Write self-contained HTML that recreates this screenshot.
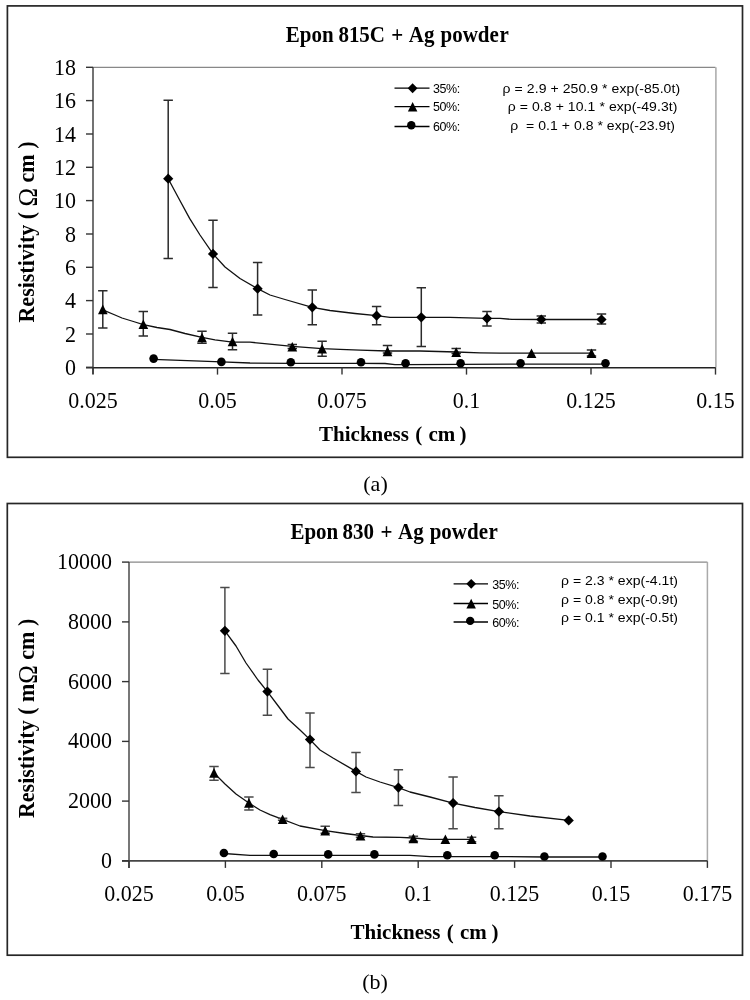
<!DOCTYPE html><html><head><meta charset="utf-8"><style>html,body{margin:0;padding:0;background:#fff;}svg{display:block;filter:grayscale(1);}</style></head><body>
<svg width="750" height="1000" viewBox="0 0 750 1000">
<rect width="750" height="1000" fill="#fff"/>
<rect x="7.4" y="5.9" width="735.1" height="451.4" fill="none" stroke="#262626" stroke-width="1.7"/>
<text transform="translate(0 41.8) scale(1 1.06)" font-family='"Liberation Serif", serif' font-size="21" font-weight="bold"><tspan x="285.8">Epon</tspan><tspan x="338.4">815C</tspan><tspan x="391.2">+</tspan><tspan x="408.8">Ag</tspan><tspan x="440.5">powde</tspan><tspan x="499.4">r</tspan></text>
<path d="M93 67.3H715.5" stroke="#888" stroke-width="1.3" fill="none"/>
<path d="M715.9 67.3V367.3" stroke="#a8a8a8" stroke-width="1.5" fill="none"/>
<path d="M93 67.3V374.3" stroke="#444" stroke-width="1.5" fill="none"/>
<path d="M86 367.7H715.5" stroke="#222" stroke-width="1.5" fill="none"/>
<path d="M86 367.3H93" stroke="#333" stroke-width="1.4"/>
<text transform="translate(76 374.9) scale(1 1.075)" font-family='"Liberation Serif", serif' font-size="22" text-anchor="end" font-weight="normal" >0</text>
<path d="M86 334.0H93" stroke="#333" stroke-width="1.4"/>
<text transform="translate(76 341.57) scale(1 1.075)" font-family='"Liberation Serif", serif' font-size="22" text-anchor="end" font-weight="normal" >2</text>
<path d="M86 300.6H93" stroke="#333" stroke-width="1.4"/>
<text transform="translate(76 308.23) scale(1 1.075)" font-family='"Liberation Serif", serif' font-size="22" text-anchor="end" font-weight="normal" >4</text>
<path d="M86 267.3H93" stroke="#333" stroke-width="1.4"/>
<text transform="translate(76 274.9) scale(1 1.075)" font-family='"Liberation Serif", serif' font-size="22" text-anchor="end" font-weight="normal" >6</text>
<path d="M86 234.0H93" stroke="#333" stroke-width="1.4"/>
<text transform="translate(76 241.57) scale(1 1.075)" font-family='"Liberation Serif", serif' font-size="22" text-anchor="end" font-weight="normal" >8</text>
<path d="M86 200.6H93" stroke="#333" stroke-width="1.4"/>
<text transform="translate(76 208.23) scale(1 1.075)" font-family='"Liberation Serif", serif' font-size="22" text-anchor="end" font-weight="normal" >10</text>
<path d="M86 167.3H93" stroke="#333" stroke-width="1.4"/>
<text transform="translate(76 174.9) scale(1 1.075)" font-family='"Liberation Serif", serif' font-size="22" text-anchor="end" font-weight="normal" >12</text>
<path d="M86 134.0H93" stroke="#333" stroke-width="1.4"/>
<text transform="translate(76 141.57) scale(1 1.075)" font-family='"Liberation Serif", serif' font-size="22" text-anchor="end" font-weight="normal" >14</text>
<path d="M86 100.6H93" stroke="#333" stroke-width="1.4"/>
<text transform="translate(76 108.23) scale(1 1.075)" font-family='"Liberation Serif", serif' font-size="22" text-anchor="end" font-weight="normal" >16</text>
<path d="M86 67.3H93" stroke="#333" stroke-width="1.4"/>
<text transform="translate(76 74.9) scale(1 1.075)" font-family='"Liberation Serif", serif' font-size="22" text-anchor="end" font-weight="normal" >18</text>
<path d="M93.0 367.3V374.6" stroke="#333" stroke-width="1.4"/>
<text transform="translate(93.0 407.6) scale(1 1.075)" font-family='"Liberation Serif", serif' font-size="22" text-anchor="middle" font-weight="normal" >0.025</text>
<path d="M217.5 367.3V374.6" stroke="#333" stroke-width="1.4"/>
<text transform="translate(217.5 407.6) scale(1 1.075)" font-family='"Liberation Serif", serif' font-size="22" text-anchor="middle" font-weight="normal" >0.05</text>
<path d="M342.0 367.3V374.6" stroke="#333" stroke-width="1.4"/>
<text transform="translate(342.0 407.6) scale(1 1.075)" font-family='"Liberation Serif", serif' font-size="22" text-anchor="middle" font-weight="normal" >0.075</text>
<path d="M466.5 367.3V374.6" stroke="#333" stroke-width="1.4"/>
<text transform="translate(466.5 407.6) scale(1 1.075)" font-family='"Liberation Serif", serif' font-size="22" text-anchor="middle" font-weight="normal" >0.1</text>
<path d="M591.0 367.3V374.6" stroke="#333" stroke-width="1.4"/>
<text transform="translate(591.0 407.6) scale(1 1.075)" font-family='"Liberation Serif", serif' font-size="22" text-anchor="middle" font-weight="normal" >0.125</text>
<path d="M715.5 367.3V374.6" stroke="#333" stroke-width="1.4"/>
<text transform="translate(715.5 407.6) scale(1 1.075)" font-family='"Liberation Serif", serif' font-size="22" text-anchor="middle" font-weight="normal" >0.15</text>
<text transform="translate(0 441.2) scale(1 1.035)" font-family='"Liberation Serif", serif' font-size="21" font-weight="bold"><tspan x="319.1">Thickness</tspan><tspan x="415.3">(</tspan><tspan x="428.4">cm</tspan><tspan x="459.5">)</tspan></text>
<text transform="translate(34 232) rotate(-90) scale(1 1.05)" font-family='"Liberation Serif", serif' font-size="22" font-weight="bold" text-anchor="middle">Resistivity ( <tspan font-weight="normal" font-size="25" dy="2.4">&#937;</tspan><tspan dy="-2.4"> cm )</tspan></text>
<path d="M394.5 88.2H429.5" stroke="#000" stroke-width="1.3"/>
<path d="M412.6 83.3L417.5 88.2L412.6 93.2L407.7 88.2Z" fill="#000"/>
<text transform="translate(433 93.0) scale(1 1.06)" font-family='"Liberation Sans", sans-serif' font-size="12.5" text-anchor="start" font-weight="normal" letter-spacing="-0.45">35%:</text>
<path d="M394.5 106.7H429.5" stroke="#000" stroke-width="1.3"/>
<path d="M412.6 102.0L417.4 111.6L407.9 111.6Z" fill="#000"/>
<text transform="translate(433 111.45) scale(1 1.06)" font-family='"Liberation Sans", sans-serif' font-size="12.5" text-anchor="start" font-weight="normal" letter-spacing="-0.45">50%:</text>
<path d="M394.5 126.5H429.5" stroke="#000" stroke-width="1.3"/>
<circle cx="411.3" cy="125.2" r="4.2" fill="#000"/>
<text transform="translate(433 131.25) scale(1 1.06)" font-family='"Liberation Sans", sans-serif' font-size="12.5" text-anchor="start" font-weight="normal" letter-spacing="-0.45">60%:</text>
<text transform="translate(502.6 92.9) scale(1 0.96)" font-family='"Liberation Sans", sans-serif' font-size="14" textLength="177.5" lengthAdjust="spacing" xml:space="preserve">&#961; = 2.9 + 250.9 * exp(-85.0t)</text>
<text transform="translate(507.7 111.3) scale(1 0.96)" font-family='"Liberation Sans", sans-serif' font-size="14" textLength="169.8" lengthAdjust="spacing" xml:space="preserve">&#961; = 0.8 + 10.1 * exp(-49.3t)</text>
<text transform="translate(510.2 130) scale(1 0.96)" font-family='"Liberation Sans", sans-serif' font-size="14" textLength="164.8" lengthAdjust="spacing" xml:space="preserve">&#961;  = 0.1 + 0.8 * exp(-23.9t)</text>
<path d="M168.2 178.7 L178.0 197.0 L189.6 218.4 L200.0 235.0 L213.0 253.9 L225.0 267.0 L240.0 278.5 L257.6 288.7 L270.0 295.0 L285.0 299.5 L312.3 307.3 L330.0 310.5 L355.0 313.5 L376.6 315.7 L390.0 317.3 L421.3 317.3 L450.0 317.3 L487.0 318.4 L500.0 318.4 L512.0 319.4 L541.3 319.5 L601.5 319.5" stroke="#111" stroke-width="1.3" fill="none" stroke-linejoin="round"/>
<path d="M102.8 309.8 L115.0 315.0 L122.0 318.0 L135.0 322.0 L143.3 324.6 L157.0 327.5 L170.0 329.5 L185.0 333.5 L202.0 337.4 L215.0 339.8 L232.5 342.2 L250.0 342.2 L262.0 343.3 L292.3 346.3 L322.1 348.6 L340.0 349.3 L360.0 350.2 L387.5 351.0 L420.0 351.0 L456.2 352.0 L480.0 352.8 L500.0 353.2 L531.5 353.2 L591.5 353.2" stroke="#111" stroke-width="1.3" fill="none" stroke-linejoin="round"/>
<path d="M153.6 359.4 L160.0 359.7 L221.4 361.8 L250.0 363.0 L290.8 363.3 L361.0 363.3 L385.0 363.5 L395.0 364.6 L405.6 364.6 L460.6 364.3 L520.6 364.2 L605.5 364.2" stroke="#111" stroke-width="1.3" fill="none" stroke-linejoin="round"/>
<path d="M168.2 100.3V258.4M163.5 100.3H172.9M163.5 258.4H172.9" stroke="#2b2b2b" stroke-width="1.5" fill="none"/>
<path d="M213.0 220.3V287.5M208.3 220.3H217.7M208.3 287.5H217.7" stroke="#2b2b2b" stroke-width="1.5" fill="none"/>
<path d="M257.6 262.5V315.0M252.9 262.5H262.3M252.9 315.0H262.3" stroke="#2b2b2b" stroke-width="1.5" fill="none"/>
<path d="M312.3 290.0V324.7M307.6 290.0H317.0M307.6 324.7H317.0" stroke="#2b2b2b" stroke-width="1.5" fill="none"/>
<path d="M376.6 306.4V324.7M371.9 306.4H381.3M371.9 324.7H381.3" stroke="#2b2b2b" stroke-width="1.5" fill="none"/>
<path d="M421.3 287.8V346.6M416.6 287.8H426.0M416.6 346.6H426.0" stroke="#2b2b2b" stroke-width="1.5" fill="none"/>
<path d="M487.0 311.4V326.0M482.3 311.4H491.7M482.3 326.0H491.7" stroke="#2b2b2b" stroke-width="1.5" fill="none"/>
<path d="M541.3 316.0V323.0M536.6 316.0H546.0M536.6 323.0H546.0" stroke="#2b2b2b" stroke-width="1.5" fill="none"/>
<path d="M601.5 314.0V324.0M596.8 314.0H606.2M596.8 324.0H606.2" stroke="#2b2b2b" stroke-width="1.5" fill="none"/>
<path d="M102.8 290.7V328.0M98.1 290.7H107.5M98.1 328.0H107.5" stroke="#2b2b2b" stroke-width="1.5" fill="none"/>
<path d="M143.3 311.6V335.9M138.6 311.6H148.0M138.6 335.9H148.0" stroke="#2b2b2b" stroke-width="1.5" fill="none"/>
<path d="M202.0 331.2V343.3M197.3 331.2H206.7M197.3 343.3H206.7" stroke="#2b2b2b" stroke-width="1.5" fill="none"/>
<path d="M232.5 333.3V349.8M227.8 333.3H237.2M227.8 349.8H237.2" stroke="#2b2b2b" stroke-width="1.5" fill="none"/>
<path d="M292.3 344.5V348.5M287.6 344.5H297.0M287.6 348.5H297.0" stroke="#2b2b2b" stroke-width="1.5" fill="none"/>
<path d="M322.1 341.3V356.3M317.4 341.3H326.8M317.4 356.3H326.8" stroke="#2b2b2b" stroke-width="1.5" fill="none"/>
<path d="M387.5 345.6V353.0M382.8 345.6H392.2M382.8 353.0H392.2" stroke="#2b2b2b" stroke-width="1.5" fill="none"/>
<path d="M456.2 348.4V353.5M451.5 348.4H460.9M451.5 353.5H460.9" stroke="#2b2b2b" stroke-width="1.5" fill="none"/>
<path d="M591.5 350.0V356.0M586.8 350.0H596.2M586.8 356.0H596.2" stroke="#2b2b2b" stroke-width="1.5" fill="none"/>
<path d="M168.2 173.6L173.3 178.7L168.2 183.8L163.1 178.7Z" fill="#000"/>
<path d="M213.0 248.8L218.1 253.9L213.0 259.0L207.9 253.9Z" fill="#000"/>
<path d="M257.6 283.6L262.7 288.7L257.6 293.8L252.5 288.7Z" fill="#000"/>
<path d="M312.3 302.2L317.4 307.3L312.3 312.4L307.2 307.3Z" fill="#000"/>
<path d="M376.6 310.6L381.7 315.7L376.6 320.8L371.5 315.7Z" fill="#000"/>
<path d="M421.3 312.2L426.4 317.3L421.3 322.4L416.2 317.3Z" fill="#000"/>
<path d="M487.0 313.3L492.1 318.4L487.0 323.5L481.9 318.4Z" fill="#000"/>
<path d="M541.3 314.4L546.4 319.5L541.3 324.6L536.2 319.5Z" fill="#000"/>
<path d="M601.5 314.4L606.6 319.5L601.5 324.6L596.4 319.5Z" fill="#000"/>
<path d="M102.8 304.6L107.6 314.2L98.0 314.2Z" fill="#000"/>
<path d="M143.3 319.4L148.2 329.0L138.5 329.0Z" fill="#000"/>
<path d="M202.0 332.7L206.8 342.3L197.2 342.3Z" fill="#000"/>
<path d="M232.5 336.7L237.3 346.3L227.7 346.3Z" fill="#000"/>
<path d="M292.3 341.9L297.2 351.5L287.4 351.5Z" fill="#000"/>
<path d="M322.1 343.9L327.0 353.5L317.2 353.5Z" fill="#000"/>
<path d="M387.5 346.6L392.4 356.2L382.6 356.2Z" fill="#000"/>
<path d="M456.2 347.3L461.1 356.9L451.3 356.9Z" fill="#000"/>
<path d="M531.5 348.5L536.4 358.1L526.6 358.1Z" fill="#000"/>
<path d="M591.5 348.5L596.4 358.1L586.6 358.1Z" fill="#000"/>
<circle cx="153.6" cy="358.6" r="4.3" fill="#000"/>
<circle cx="221.4" cy="361.9" r="4.3" fill="#000"/>
<circle cx="290.8" cy="362.2" r="4.3" fill="#000"/>
<circle cx="361.0" cy="362.3" r="4.3" fill="#000"/>
<circle cx="405.6" cy="363.3" r="4.3" fill="#000"/>
<circle cx="460.6" cy="363.3" r="4.3" fill="#000"/>
<circle cx="520.6" cy="363.3" r="4.3" fill="#000"/>
<circle cx="605.5" cy="363.3" r="4.3" fill="#000"/>
<text transform="translate(375.5 491.1) scale(1 1.0)" font-family='"Liberation Serif", serif' font-size="22" text-anchor="middle" font-weight="normal" >(a)</text>
<rect x="7.3" y="503.5" width="735.2" height="451.7" fill="none" stroke="#262626" stroke-width="1.7"/>
<text transform="translate(0 538.8) scale(1 1.06)" font-family='"Liberation Serif", serif' font-size="21" font-weight="bold"><tspan x="290.4">Epon</tspan><tspan x="342.4">830</tspan><tspan x="380.5">+</tspan><tspan x="398.1">Ag</tspan><tspan x="429.7">powde</tspan><tspan x="488.6">r</tspan></text>
<path d="M129 562.1H707.4" stroke="#888" stroke-width="1.3" fill="none"/>
<path d="M707.4 562.1V860.9" stroke="#aaa" stroke-width="1.5" fill="none"/>
<path d="M129 562.1V867.9" stroke="#4a4a4a" stroke-width="1.5" fill="none"/>
<path d="M122 860.9H707.4" stroke="#454545" stroke-width="1.6" fill="none"/>
<path d="M122 860.9H129" stroke="#333" stroke-width="1.4"/>
<text transform="translate(112 868.0) scale(1 1.075)" font-family='"Liberation Serif", serif' font-size="22" text-anchor="end" font-weight="normal" >0</text>
<path d="M122 801.1H129" stroke="#333" stroke-width="1.4"/>
<text transform="translate(112 808.24) scale(1 1.075)" font-family='"Liberation Serif", serif' font-size="22" text-anchor="end" font-weight="normal" >2000</text>
<path d="M122 741.4H129" stroke="#333" stroke-width="1.4"/>
<text transform="translate(112 748.48) scale(1 1.075)" font-family='"Liberation Serif", serif' font-size="22" text-anchor="end" font-weight="normal" >4000</text>
<path d="M122 681.6H129" stroke="#333" stroke-width="1.4"/>
<text transform="translate(112 688.72) scale(1 1.075)" font-family='"Liberation Serif", serif' font-size="22" text-anchor="end" font-weight="normal" >6000</text>
<path d="M122 621.9H129" stroke="#333" stroke-width="1.4"/>
<text transform="translate(112 628.96) scale(1 1.075)" font-family='"Liberation Serif", serif' font-size="22" text-anchor="end" font-weight="normal" >8000</text>
<path d="M122 562.1H129" stroke="#333" stroke-width="1.4"/>
<text transform="translate(112 569.2) scale(1 1.075)" font-family='"Liberation Serif", serif' font-size="22" text-anchor="end" font-weight="normal" >10000</text>
<path d="M129.0 860.9V867.9" stroke="#333" stroke-width="1.4"/>
<text transform="translate(129.0 901.2) scale(1 1.075)" font-family='"Liberation Serif", serif' font-size="22" text-anchor="middle" font-weight="normal" >0.025</text>
<path d="M225.4 860.9V867.9" stroke="#333" stroke-width="1.4"/>
<text transform="translate(225.4 901.2) scale(1 1.075)" font-family='"Liberation Serif", serif' font-size="22" text-anchor="middle" font-weight="normal" >0.05</text>
<path d="M321.8 860.9V867.9" stroke="#333" stroke-width="1.4"/>
<text transform="translate(321.8 901.2) scale(1 1.075)" font-family='"Liberation Serif", serif' font-size="22" text-anchor="middle" font-weight="normal" >0.075</text>
<path d="M418.2 860.9V867.9" stroke="#333" stroke-width="1.4"/>
<text transform="translate(418.2 901.2) scale(1 1.075)" font-family='"Liberation Serif", serif' font-size="22" text-anchor="middle" font-weight="normal" >0.1</text>
<path d="M514.6 860.9V867.9" stroke="#333" stroke-width="1.4"/>
<text transform="translate(514.6 901.2) scale(1 1.075)" font-family='"Liberation Serif", serif' font-size="22" text-anchor="middle" font-weight="normal" >0.125</text>
<path d="M611.0 860.9V867.9" stroke="#333" stroke-width="1.4"/>
<text transform="translate(611.0 901.2) scale(1 1.075)" font-family='"Liberation Serif", serif' font-size="22" text-anchor="middle" font-weight="normal" >0.15</text>
<path d="M707.4 860.9V867.9" stroke="#333" stroke-width="1.4"/>
<text transform="translate(707.4 901.2) scale(1 1.075)" font-family='"Liberation Serif", serif' font-size="22" text-anchor="middle" font-weight="normal" >0.175</text>
<text transform="translate(0 938.8) scale(1 1.035)" font-family='"Liberation Serif", serif' font-size="21" font-weight="bold"><tspan x="350.6">Thickness</tspan><tspan x="446.8">(</tspan><tspan x="460.0">cm</tspan><tspan x="491.5">)</tspan></text>
<text transform="translate(34 718.4) rotate(-90) scale(1 1.05)" font-family='"Liberation Serif", serif' font-size="22" font-weight="bold" text-anchor="middle">Resistivity ( m<tspan font-weight="normal" font-size="25" dy="2.4">&#937;</tspan><tspan dy="-2.4"> cm )</tspan></text>
<path d="M453.6 583.8H488" stroke="#000" stroke-width="1.3"/>
<path d="M471.2 578.9L476.1 583.8L471.2 588.7L466.3 583.8Z" fill="#000"/>
<text transform="translate(492.3 588.9) scale(1 1.06)" font-family='"Liberation Sans", sans-serif' font-size="12.5" text-anchor="start" font-weight="normal" letter-spacing="-0.45">35%:</text>
<path d="M453.6 603.5H488" stroke="#000" stroke-width="1.3"/>
<path d="M471.2 598.8L475.9 608.4L466.4 608.4Z" fill="#000"/>
<text transform="translate(492.3 608.6) scale(1 1.06)" font-family='"Liberation Sans", sans-serif' font-size="12.5" text-anchor="start" font-weight="normal" letter-spacing="-0.45">50%:</text>
<path d="M453.6 622.0H488" stroke="#000" stroke-width="1.3"/>
<circle cx="470.2" cy="620.9" r="4.2" fill="#000"/>
<text transform="translate(492.3 627.1) scale(1 1.06)" font-family='"Liberation Sans", sans-serif' font-size="12.5" text-anchor="start" font-weight="normal" letter-spacing="-0.45">60%:</text>
<text transform="translate(561 585.3) scale(1 0.96)" font-family='"Liberation Sans", sans-serif' font-size="14" textLength="117" lengthAdjust="spacing" xml:space="preserve">&#961; = 2.3 * exp(-4.1t)</text>
<text transform="translate(561 603.8) scale(1 0.96)" font-family='"Liberation Sans", sans-serif' font-size="14" textLength="117" lengthAdjust="spacing" xml:space="preserve">&#961; = 0.8 * exp(-0.9t)</text>
<text transform="translate(561 622.4) scale(1 0.96)" font-family='"Liberation Sans", sans-serif' font-size="14" textLength="117" lengthAdjust="spacing" xml:space="preserve">&#961; = 0.1 * exp(-0.5t)</text>
<path d="M224.9 630.8 L236.0 646.0 L246.0 663.0 L258.0 680.0 L267.4 691.6 L279.0 707.0 L288.0 719.0 L300.0 730.0 L310.0 739.6 L320.0 750.0 L333.0 758.0 L356.0 771.4 L366.0 777.0 L380.0 782.0 L398.4 787.6 L410.0 792.0 L430.0 797.0 L453.1 803.1 L475.0 807.5 L498.9 811.6 L530.0 816.0 L568.7 820.4" stroke="#111" stroke-width="1.3" fill="none" stroke-linejoin="round"/>
<path d="M214.0 773.0 L225.0 784.0 L236.0 794.0 L248.9 803.0 L260.0 810.0 L270.0 814.6 L282.6 819.3 L300.0 826.0 L325.2 830.7 L345.0 833.5 L360.5 835.5 L373.0 837.0 L400.0 837.3 L413.4 838.0 L430.0 839.3 L471.6 839.3" stroke="#111" stroke-width="1.3" fill="none" stroke-linejoin="round"/>
<path d="M223.9 853.5 L250.0 855.4 L328.2 855.4 L374.4 855.4 L410.0 855.4 L430.0 856.6 L494.7 856.6 L544.4 857.0 L602.5 857.0 L606.0 857.0" stroke="#111" stroke-width="1.3" fill="none" stroke-linejoin="round"/>
<path d="M224.9 587.5V673.6M220.2 587.5H229.6M220.2 673.6H229.6" stroke="#4a4a4a" stroke-width="1.5" fill="none"/>
<path d="M267.4 669.2V715.2M262.7 669.2H272.1M262.7 715.2H272.1" stroke="#4a4a4a" stroke-width="1.5" fill="none"/>
<path d="M310.0 713.0V767.4M305.3 713.0H314.7M305.3 767.4H314.7" stroke="#4a4a4a" stroke-width="1.5" fill="none"/>
<path d="M356.0 752.4V792.6M351.3 752.4H360.7M351.3 792.6H360.7" stroke="#4a4a4a" stroke-width="1.5" fill="none"/>
<path d="M398.4 769.8V805.6M393.7 769.8H403.1M393.7 805.6H403.1" stroke="#4a4a4a" stroke-width="1.5" fill="none"/>
<path d="M453.1 777.0V828.7M448.4 777.0H457.8M448.4 828.7H457.8" stroke="#4a4a4a" stroke-width="1.5" fill="none"/>
<path d="M498.9 795.8V828.7M494.2 795.8H503.6M494.2 828.7H503.6" stroke="#4a4a4a" stroke-width="1.5" fill="none"/>
<path d="M214.0 766.5V780.2M209.3 766.5H218.7M209.3 780.2H218.7" stroke="#4a4a4a" stroke-width="1.5" fill="none"/>
<path d="M248.9 797.0V810.0M244.2 797.0H253.6M244.2 810.0H253.6" stroke="#4a4a4a" stroke-width="1.5" fill="none"/>
<path d="M282.6 818.3V820.3M277.9 818.3H287.3M277.9 820.3H287.3" stroke="#4a4a4a" stroke-width="1.5" fill="none"/>
<path d="M325.2 826.3V833.3M320.5 826.3H329.9M320.5 833.3H329.9" stroke="#4a4a4a" stroke-width="1.5" fill="none"/>
<path d="M360.5 833.8V837.3M355.8 833.8H365.2M355.8 837.3H365.2" stroke="#4a4a4a" stroke-width="1.5" fill="none"/>
<path d="M413.4 836.3V841.3M408.7 836.3H418.1M408.7 841.3H418.1" stroke="#4a4a4a" stroke-width="1.5" fill="none"/>
<path d="M471.6 837.3V841.8M466.9 837.3H476.3M466.9 841.8H476.3" stroke="#4a4a4a" stroke-width="1.5" fill="none"/>
<path d="M224.9 625.7L230.0 630.8L224.9 635.9L219.8 630.8Z" fill="#000"/>
<path d="M267.4 686.5L272.5 691.6L267.4 696.7L262.3 691.6Z" fill="#000"/>
<path d="M310.0 734.5L315.1 739.6L310.0 744.7L304.9 739.6Z" fill="#000"/>
<path d="M356.0 766.3L361.1 771.4L356.0 776.5L350.9 771.4Z" fill="#000"/>
<path d="M398.4 782.5L403.5 787.6L398.4 792.7L393.3 787.6Z" fill="#000"/>
<path d="M453.1 798.0L458.2 803.1L453.1 808.2L448.0 803.1Z" fill="#000"/>
<path d="M498.9 806.5L504.0 811.6L498.9 816.7L493.8 811.6Z" fill="#000"/>
<path d="M568.7 815.3L573.8 820.4L568.7 825.5L563.6 820.4Z" fill="#000"/>
<path d="M214.0 768.1L218.8 777.7L209.2 777.7Z" fill="#000"/>
<path d="M248.9 798.1L253.8 807.7L244.1 807.7Z" fill="#000"/>
<path d="M282.6 814.5L287.5 824.1L277.8 824.1Z" fill="#000"/>
<path d="M325.2 825.8L330.1 835.4L320.3 835.4Z" fill="#000"/>
<path d="M360.5 830.9L365.4 840.5L355.6 840.5Z" fill="#000"/>
<path d="M413.4 833.6L418.2 843.2L408.5 843.2Z" fill="#000"/>
<path d="M445.4 834.4L450.2 844.0L440.5 844.0Z" fill="#000"/>
<path d="M471.6 834.4L476.5 844.0L466.8 844.0Z" fill="#000"/>
<circle cx="223.9" cy="853.0" r="4.3" fill="#000"/>
<circle cx="273.7" cy="854.0" r="4.3" fill="#000"/>
<circle cx="328.2" cy="854.4" r="4.3" fill="#000"/>
<circle cx="374.4" cy="854.4" r="4.3" fill="#000"/>
<circle cx="447.3" cy="855.3" r="4.3" fill="#000"/>
<circle cx="494.7" cy="855.3" r="4.3" fill="#000"/>
<circle cx="544.4" cy="856.5" r="4.3" fill="#000"/>
<circle cx="602.5" cy="856.5" r="4.3" fill="#000"/>
<text transform="translate(375 988.7) scale(1 1.0)" font-family='"Liberation Serif", serif' font-size="22" text-anchor="middle" font-weight="normal" >(b)</text>
</svg></body></html>
